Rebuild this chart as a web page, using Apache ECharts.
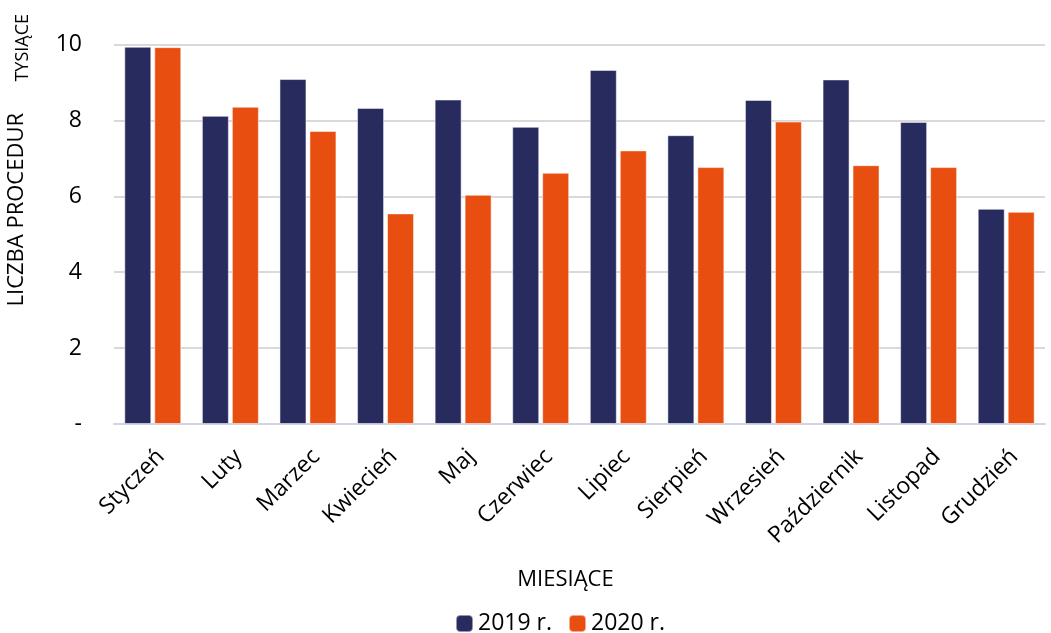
<!DOCTYPE html>
<html><head><meta charset="utf-8">
<script src="https://cdn.jsdelivr.net/npm/echarts@6/dist/echarts.min.js"></script>
<style>html,body{margin:0;padding:0;background:#fff}#c{width:1051px;height:633px}</style>
</head><body><div id="c"></div>
<script>
const categories = ['Styczeń','Luty','Marzec','Kwiecień','Maj','Czerwiec','Lipiec','Sierpień','Wrzesień','Październik','Listopad','Grudzień'];
const values2019 = [9.94, 8.12, 9.09, 8.33, 8.55, 7.83, 9.33, 7.61, 8.54, 9.08, 7.96, 5.67];
const values2020 = [9.93, 8.36, 7.72, 5.55, 6.04, 6.62, 7.21, 6.77, 7.97, 6.82, 6.77, 5.59];
const yTicks = [0, 2, 4, 6, 8, 10];
const FONT = 'Open Sans';
const chart = echarts.init(document.getElementById('c'));
chart.setOption({
  animation: false,
  textStyle: {fontFamily: FONT},
  grid: {left: 114, right: 6, top: 44.5, bottom: 209},
  legend: {
    top: 607, left: 450, itemWidth: 17, itemHeight: 17, itemGap: 16,
    textStyle: {fontSize: 23, color: '#000', fontFamily: FONT},
    data: ['2019 r.', '2020 r.']
  },
  xAxis: {
    type: 'category', data: categories,
    name: 'MIESIĄCE', nameLocation: 'middle', nameGap: 145,
    nameTextStyle: {fontSize: 22, color: '#000', fontFamily: FONT, padding: [0, 28, 0, 0]},
    axisLine: {lineStyle: {color: '#d3d3e6', width: 2}},
    axisTick: {show: false},
    axisLabel: {rotate: 45, fontSize: 23, color: '#000', margin: 21, interval: 0, fontFamily: FONT,
      verticalAlign: 'top'}
  },
  yAxis: {
    type: 'value', min: 0, max: 10, interval: 2,
    axisLine: {show: false}, axisTick: {show: false},
    splitLine: {lineStyle: {color: '#d9d9d9', width: 2}},
    axisLabel: {fontSize: 23, color: '#000', margin: 32, fontFamily: FONT,
      formatter: v => yTicks.includes(v) ? (v === 0 ? '-' : String(v)) : ''}
  },
  graphic: [
    {type: 'text', left: 6, top: 113, rotation: Math.PI/2,
      style: {text: 'LICZBA PROCEDUR', fontSize: 22, fill: '#000', fontFamily: FONT}},
    {type: 'text', left: 14, top: 14, rotation: Math.PI/2,
      style: {text: 'TYSIĄCE', fontSize: 18, fill: '#000', fontFamily: FONT}}
  ],
  series: [
    {name: '2019 r.', type: 'bar', data: values2019, barWidth: 27, barGap: '11%',
      itemStyle: {color: '#282b5e', borderColor: 'rgba(255,255,255,0.5)', borderWidth: 1}},
    {name: '2020 r.', type: 'bar', data: values2020, barWidth: 27,
      itemStyle: {color: '#e84e10', borderColor: 'rgba(255,255,255,0.5)', borderWidth: 1}}
  ]
});
</script></body></html>
